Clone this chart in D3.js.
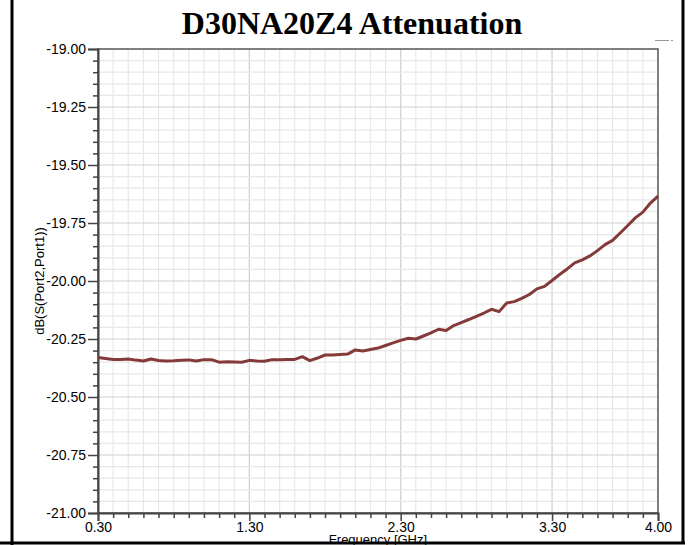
<!DOCTYPE html>
<html lang="en">
<head>
    <meta charset="UTF-8">
    <title>D30NA20Z4 Attenuation</title>
    <script src="https://d3js.org/d3.v7.min.js"></script>
    <style>
        body { margin: 0; background: #fff; }
        svg { display: block; }
        .tick text { font-family: "Liberation Sans", Arial, sans-serif; font-size: 14px; fill: #000; }
    </style>
</head>
<body>
    <svg id="chart" width="689" height="545"></svg>
    <script>
        // frequency in GHz
        const freq = [0.30, 0.35, 0.40, 0.45, 0.50, 0.55, 0.60, 0.65, 0.70, 0.75,
                      0.80, 0.85, 0.90, 0.95, 1.00, 1.05, 1.10, 1.15, 1.20, 1.25,
                      1.30, 1.35, 1.40, 1.45, 1.50, 1.55, 1.60, 1.65, 1.70, 1.75,
                      1.80, 1.85, 1.90, 1.95, 2.00, 2.05, 2.10, 2.15, 2.20, 2.25,
                      2.30, 2.35, 2.40, 2.45, 2.50, 2.55, 2.60, 2.65, 2.70, 2.75,
                      2.80, 2.85, 2.90, 2.95, 3.00, 3.05, 3.10, 3.15, 3.20, 3.25,
                      3.30, 3.35, 3.40, 3.45, 3.50, 3.55, 3.60, 3.65, 3.70, 3.75,
                      3.80, 3.85, 3.90, 3.95, 4.00];
        // dB(S(Port2,Port1))
        const s21 = [-20.330, -20.334, -20.338, -20.338, -20.336, -20.341, -20.345, -20.336, -20.343, -20.345,
                     -20.344, -20.342, -20.340, -20.345, -20.339, -20.339, -20.350, -20.348, -20.349, -20.350,
                     -20.342, -20.345, -20.346, -20.339, -20.339, -20.338, -20.338, -20.326, -20.343, -20.332,
                     -20.319, -20.319, -20.317, -20.315, -20.297, -20.302, -20.295, -20.289, -20.278, -20.267,
                     -20.256, -20.247, -20.250, -20.237, -20.224, -20.208, -20.213, -20.192, -20.179, -20.166,
                     -20.152, -20.138, -20.122, -20.132, -20.095, -20.089, -20.075, -20.058, -20.034, -20.023,
                     -19.998, -19.972, -19.948, -19.922, -19.909, -19.892, -19.869, -19.843, -19.825, -19.793,
                     -19.761, -19.728, -19.703, -19.664, -19.634];

        const xTicks = [0.30, 1.30, 2.30, 3.30, 4.00];
        const yTicks = [-19.00, -19.25, -19.50, -19.75, -20.00, -20.25, -20.50, -20.75, -21.00];

        const svg = d3.select("#chart");
        const pLeft = 98, pRight = 658, pTop = 49, pBottom = 513;

        const x = d3.scaleLinear().domain([0.3, 4.0]).range([pLeft, pRight]);
        const y = d3.scaleLinear().domain([-21, -19]).range([pBottom, pTop]);

        // plain hyphen instead of d3's unicode minus
        const fmt = d => d.toFixed(2);

        // outer frame
        svg.append("line").attr("x1", 12).attr("x2", 12).attr("y1", 0).attr("y2", 545)
            .attr("stroke", "#000").attr("stroke-width", 3);
        svg.append("line").attr("x1", 683).attr("x2", 683).attr("y1", 0).attr("y2", 543)
            .attr("stroke", "#000").attr("stroke-width", 3);
        svg.append("line").attr("x1", 0).attr("x2", 685).attr("y1", 543).attr("y2", 543)
            .attr("stroke", "#000").attr("stroke-width", 3);

        // title
        svg.append("text")
            .attr("x", 352).attr("y", 34)
            .attr("text-anchor", "middle")
            .attr("font-family", "'Liberation Serif', 'Times New Roman', serif")
            .attr("font-weight", "bold")
            .attr("font-size", 32)
            .text("D30NA20Z4 Attenuation");

        // little legend stub at top right
        svg.append("line").attr("x1", 655).attr("x2", 669).attr("y1", 40.5).attr("y2", 40.5)
            .attr("stroke", "#999").attr("stroke-width", 1);
        svg.append("line").attr("x1", 671).attr("x2", 673).attr("y1", 40.5).attr("y2", 40.5)
            .attr("stroke", "#999").attr("stroke-width", 1);

        // grid
        const xMinor = d3.range(0.4, 4.0, 0.1).map(v => +v.toFixed(2));
        const yMinor = d3.range(-20.95, -19.0, 0.05).map(v => +v.toFixed(2));
        const isMajorY = v => Math.abs(v * 4 - Math.round(v * 4)) < 1e-6;
        const isMajorX = v => xTicks.some(t => Math.abs(t - v) < 1e-6);

        const grid = svg.append("g");
        grid.selectAll(".vx").data(xMinor).join("line")
            .attr("x1", d => x(d)).attr("x2", d => x(d))
            .attr("y1", pTop).attr("y2", pBottom)
            .attr("stroke", d => isMajorX(d) ? "#cfcfcf" : "#e8e8e8")
            .attr("stroke-width", 1.2);
        grid.selectAll(".hy").data(yMinor).join("line")
            .attr("x1", pLeft).attr("x2", pRight)
            .attr("y1", d => y(d)).attr("y2", d => y(d))
            .attr("stroke", d => isMajorY(d) ? "#cfcfcf" : "#e8e8e8")
            .attr("stroke-width", 1.2);

        // plot border
        svg.append("rect")
            .attr("x", pLeft).attr("y", pTop)
            .attr("width", pRight - pLeft).attr("height", pBottom - pTop)
            .attr("fill", "none").attr("stroke", "#555").attr("stroke-width", 1.5);

        // axes
        const yAxis = d3.axisLeft(y).tickValues(yTicks).tickFormat(fmt).tickSize(10).tickPadding(2);
        const yg = svg.append("g").attr("transform", `translate(${pLeft},0)`).call(yAxis);
        yg.select(".domain").attr("stroke", "#444").attr("stroke-width", 2);
        yg.selectAll(".tick line").attr("stroke", "#444").attr("stroke-width", 1.5);

        const yMinorAxis = d3.axisLeft(y).tickValues(yMinor.filter(v => !isMajorY(v))).tickFormat("").tickSize(5);
        const ymg = svg.append("g").attr("transform", `translate(${pLeft},0)`).call(yMinorAxis);
        ymg.select(".domain").remove();
        ymg.selectAll(".tick line").attr("stroke", "#444").attr("stroke-width", 1.5);

        const xAxis = d3.axisBottom(x).tickValues(xTicks).tickFormat(fmt).tickSize(8).tickPadding(1);
        const xg = svg.append("g").attr("transform", `translate(0,${pBottom})`).call(xAxis);
        xg.select(".domain").attr("stroke", "#444").attr("stroke-width", 2);
        xg.selectAll(".tick line").attr("stroke", "#444").attr("stroke-width", 1.5);

        const xMinorAxis = d3.axisBottom(x).tickValues(xMinor.filter(v => !isMajorX(v))).tickFormat("").tickSize(5);
        const xmg = svg.append("g").attr("transform", `translate(0,${pBottom})`).call(xMinorAxis);
        xmg.select(".domain").remove();
        xmg.selectAll(".tick line").attr("stroke", "#444").attr("stroke-width", 1.5);

        // axis titles
        svg.append("text")
            .attr("x", (pLeft + pRight) / 2).attr("y", 544)
            .attr("text-anchor", "middle")
            .attr("font-family", "'Liberation Sans', Arial, sans-serif")
            .attr("font-size", 13)
            .text("Frequency [GHz]");
        svg.append("text")
            .attr("transform", `translate(44,281) rotate(-90)`)
            .attr("text-anchor", "middle")
            .attr("font-family", "'Liberation Sans', Arial, sans-serif")
            .attr("font-size", 13)
            .text("dB(S(Port2,Port1))");

        // curve
        const line = d3.line().x((d, i) => x(freq[i])).y(d => y(d));
        svg.append("path")
            .datum(s21)
            .attr("d", line)
            .attr("fill", "none")
            .attr("stroke", "#853a3a")
            .attr("stroke-width", 3)
            .attr("stroke-linejoin", "round");
    </script>
</body>
</html>
